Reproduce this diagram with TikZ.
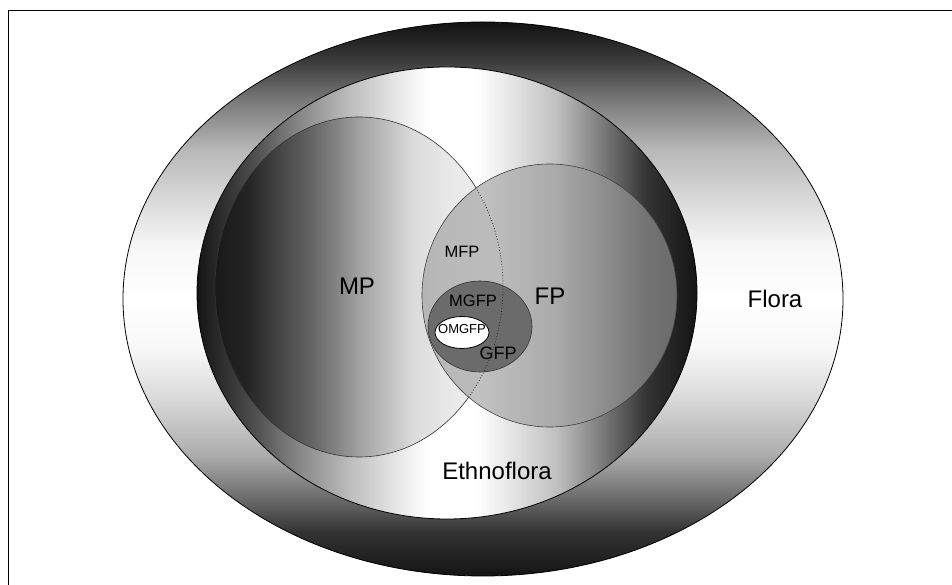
\documentclass[tikz,border=0pt]{standalone}
\usepackage{fontspec}
\setmainfont{Liberation Sans}
\pgfdeclareverticalshading{florashade}{100bp}{color(0bp)=(black!92); color(25bp)=(black!92); color(29bp)=(black!80); color(32bp)=(black!58); color(36bp)=(black!32); color(41bp)=(black!15); color(45.5bp)=(black!3); color(50bp)=(white); color(54.5bp)=(black!3); color(59bp)=(black!15); color(63.5bp)=(black!28); color(68bp)=(black!53); color(71.5bp)=(black!77); color(75bp)=(black!93); color(100bp)=(black!93)}
\pgfdeclarehorizontalshading{ethnoshade}{100bp}{color(0bp)=(black!92); color(25bp)=(black!92); color(31bp)=(black!68); color(35bp)=(black!48); color(40bp)=(black!27); color(44bp)=(black!13); color(48bp)=(white); color(53bp)=(white); color(57bp)=(black!12); color(61bp)=(black!25); color(66bp)=(black!55); color(70bp)=(black!80); color(75bp)=(black!92); color(100bp)=(black!92)}
\pgfdeclarehorizontalshading{mpshade}{100bp}{color(0bp)=(black!90); color(25bp)=(black!90); color(30.5bp)=(black!86); color(42bp)=(black!60); color(50.7bp)=(black!35); color(59.4bp)=(black!14); color(65.3bp)=(black!9); color(75bp)=(black!6); color(100bp)=(black!6)}
\begin{document}
\begin{tikzpicture}[x=1pt,y=1pt,
  biglbl/.style={font=\fontsize{24}{28}\selectfont},
  midlbl/.style={font=\fontsize{16.5}{19}\selectfont},
  smalllbl/.style={font=\fontsize{13}{15}\selectfont},
  rim/.style={draw=black,line width=0.8pt}]
\useasboundingbox (0,0) rectangle (952,585);
% frame
\draw[line width=1.6pt] (8.5,0) -- (8.5,574.5) -- (952,574.5);
% flora and ethnoflora
\shade[shading=florashade,rim] (483,286) ellipse [x radius=360, y radius=277];
\shade[shading=ethnoshade,rim] (447,292) ellipse [x radius=250, y radius=226];
% MP
\shade[shading=mpshade] (359,298) ellipse [x radius=144, y radius=170];
\begin{scope}[even odd rule]
\clip (0,0) rectangle (952,585) (549.5,289.5) ellipse [x radius=127.5, y radius=131.5];
\draw[black!80,line width=0.6pt] (359,298) ellipse [x radius=144, y radius=170];
\end{scope}
% FP
\fill[black!39,fill opacity=0.61] (549.5,289.5) ellipse [x radius=127.5, y radius=131.5];
\draw[black!75,line width=0.6pt] (549.5,289.5) ellipse [x radius=127.5, y radius=131.5];
% GFP and OMGFP
\fill[black!58] (480,258.5) ellipse [x radius=52, y radius=45.5];
\draw[black!80,line width=0.6pt] (480,258.5) ellipse [x radius=52, y radius=45.5];
\draw[rim,fill=white] (462,252.5) ellipse [x radius=27, y radius=16];
% MP border inside FP
\begin{scope}
\clip (549.5,289.5) ellipse [x radius=127.5, y radius=131.5];
\draw[black!85,line width=0.8pt,dotted] (359,298) ellipse [x radius=144, y radius=170];
\end{scope}
\node[biglbl] (flora) at (775,286) {Flora};
\node[biglbl] (ethno) at (497,114) {Ethnoflora};
\node[biglbl] (mp) at (357,299) {MP};
\node[biglbl] (fp) at (550,289) {FP};
\node[midlbl] (mfp) at (462,333) {MFP};
\node[midlbl] (mgfp) at (473,284) {MGFP};
\node[smalllbl] (omgfp) at (462,256) {OMGFP};
\node[font=\fontsize{18}{21}\selectfont] (gfp) at (498,232) {GFP};
\end{tikzpicture}
\end{document}
